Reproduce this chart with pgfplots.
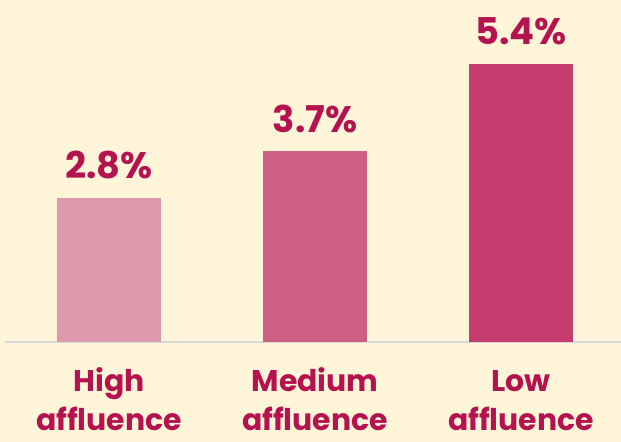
\documentclass[border=0pt]{standalone}
\usepackage{fontspec}
\setmainfont{Poppins}
\usepackage{pgfplots}
\pgfplotsset{compat=1.18}
\definecolor{bg}{HTML}{FFF5D9}
\definecolor{txt}{HTML}{B5134F}
\definecolor{barA}{HTML}{DD99AB}
\definecolor{barB}{HTML}{CC5F83}
\definecolor{barC}{HTML}{C43D6E}
\definecolor{axisline}{HTML}{D9D9DC}
\begin{document}
\begin{tikzpicture}[x=1bp,y=1bp]
\fill[bg] (0,0) rectangle (621,442);
\begin{axis}[
  at={(109bp,100bp)}, anchor=origin,
  scale only axis,
  width=616bp, height=339.9bp,
  xmin=-0.505, xmax=2.485,
  ymin=0, ymax=6.6,
  axis y line=none,
  axis x line*=bottom,
  x axis line style={draw=axisline, line width=1.2bp, -},
  xtick={0,1,2},
  xticklabels={{\strut High\\[1bp]affluence},{\strut Medium\\[1bp]affluence},{\strut Low\\[1bp]affluence}},
  xtick style={draw=none},
  xticklabel style={align=center, font=\fontsize{30}{38}\selectfont\bfseries, text=txt, anchor=north, inner sep=0pt, yshift=-19bp},
  ybar, bar width=104bp,
  bar shift=0pt,
  /pgf/number format/assume math mode=true,
  nodes near coords={\pgfmathprintnumber[fixed,precision=1,fixed zerofill,assume math mode=true]{\pgfplotspointmeta}\%},
  nodes near coords style={font=\fontsize{37}{40}\selectfont\bfseries, text=txt, anchor=base, yshift=19bp},
  clip=false,
]
\addplot[fill=barA, draw=none] coordinates {(0,2.8)};
\addplot[fill=barB, draw=none] coordinates {(1,3.7)};
\addplot[fill=barC, draw=none] coordinates {(2,5.4)};
\end{axis}
\pgfresetboundingbox
\path (0,0) rectangle (621,442);
\end{tikzpicture}
\end{document}
